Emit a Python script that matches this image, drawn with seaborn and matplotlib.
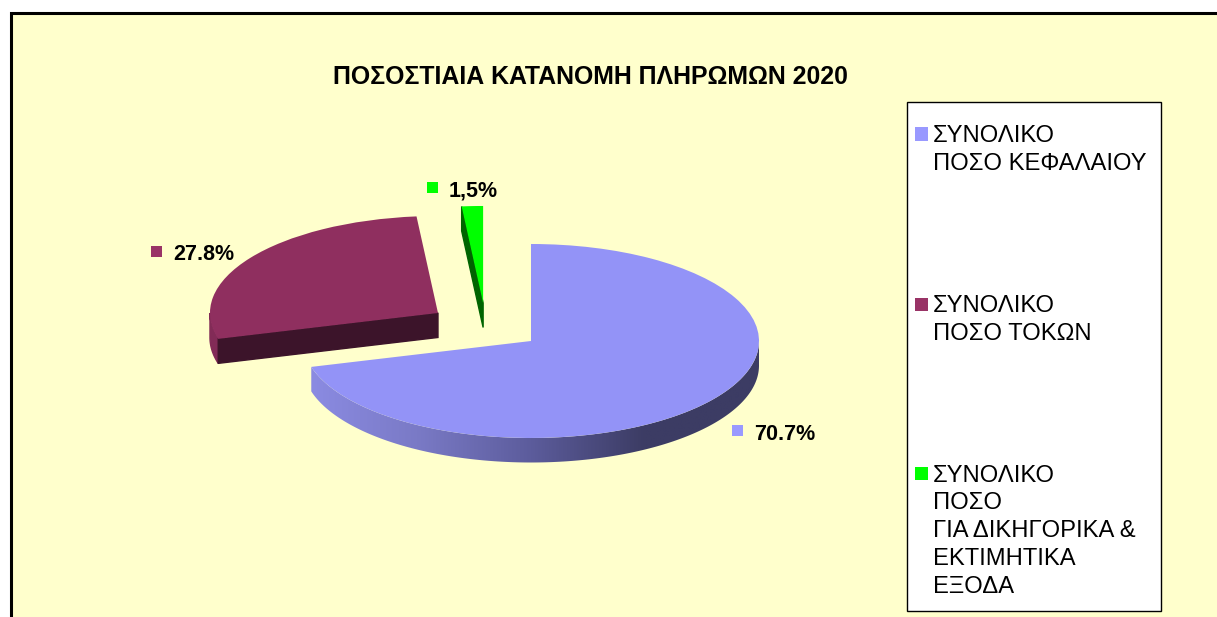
"""3D-looking exploded pie: percentage split of payments for 2020."""

import matplotlib

matplotlib.use("Agg")
import matplotlib.pyplot as plt
from matplotlib.patches import Polygon, Rectangle
import numpy as np
import seaborn as sns

VALUES = [70.7, 27.8, 1.5]
VALUE_LABELS = ["70.7%", "27.8%", "1,5%"]
LEGEND_LABELS = [
    "ΣΥΝΟΛΙΚΟ\nΠΟΣΟ ΚΕΦΑΛΑΙΟΥ",
    "ΣΥΝΟΛΙΚΟ\nΠΟΣΟ ΤΟΚΩΝ",
    "ΣΥΝΟΛΙΚΟ\nΠΟΣΟ\nΓΙΑ ΔΙΚΗΓΟΡΙΚΑ &\nΕΚΤΙΜΗΤΙΚΑ\nΕΞΟΔΑ",
]
TITLE = "ΠΟΣΟΣΤΙΑΙΑ ΚΑΤΑΝΟΜΗ ΠΛΗΡΩΜΩΝ 2020"

W, H = 1217, 617
# pie centre and radii in pixels, the tilt comes from the unequal radii
CX, CY, RX, RY = 531, 341, 228, 97
DEPTH = 24.5 / RY

TOP_COLORS = ["#9393f7", "#8f2f5f", "#00ff00"]
KEY_COLORS = ["#9999ff", "#993366", "#00ff00"]
SLICE_SHIFT = [(0.0, 0.0), (-0.408, 0.289), (-0.21, 0.392)]


def fx(px):
    return px / W


def fy(py):
    return 1 - py / H


def rim(center, a0, a1, n=200):
    """Outer edge of a slice; angles run clockwise from 12 o'clock."""
    a = np.radians(np.linspace(a0, a1, n))
    return np.column_stack([center[0] + np.sin(a), center[1] + np.cos(a)])


def wall(center, a0, a1):
    top = rim(center, a0, a1)
    low = top - [0, DEPTH]
    return np.vstack([top, low[::-1]])


def cut_face(center, angle):
    edge = rim(center, angle, angle, n=1)[0]
    pts = np.array([center, edge])
    return np.vstack([pts, (pts - [0, DEPTH])[::-1]])


sns.set_theme(style="white")
plt.rcParams["font.family"] = ["Liberation Sans", "DejaVu Sans"]

fig = plt.figure(figsize=(W / 100, H / 100), dpi=100, facecolor="white")
fig.add_artist(
    Rectangle(
        (fx(11), fy(H + 20)),
        (W + 20) / W,
        (H + 20 - 13) / H,
        transform=fig.transFigure,
        facecolor="#ffffcc",
        edgecolor="black",
        linewidth=2.2,
        zorder=-1,
    )
)

ax = fig.add_axes([0, 0, 1, 1])
ax.patch.set_visible(False)

edges = np.concatenate([[0], np.cumsum(VALUES)]) * 3.6

# side walls first, the slice tops go over them
cmap = sns.blend_palette(
    ["#8c8ce4", "#7a7ac6", "#5c5c9c", "#3c3c64", "#3c3c64"], as_cmap=True
)
im = ax.imshow(
    np.linspace(0, 1, 256)[None, :],
    cmap=cmap,
    extent=(-1, 1, -1.5, 0.5),
    aspect="auto",
    zorder=1,
)
im.set_clip_path(
    Polygon(wall(SLICE_SHIFT[0], 90, edges[1]), transform=ax.transData)
)

ax.add_patch(
    Polygon(wall(SLICE_SHIFT[1], edges[1], 270), color="#822b57", zorder=1)
)
ax.add_patch(
    Polygon(cut_face(SLICE_SHIFT[1], edges[1]), color="#3c142a", zorder=1.5)
)
ax.add_patch(
    Polygon(cut_face(SLICE_SHIFT[2], edges[2]), color="#006400", zorder=1.5)
)

wedges, _ = ax.pie(
    VALUES,
    colors=TOP_COLORS,
    startangle=90,
    counterclock=False,
    radius=1,
    wedgeprops={"linewidth": 0, "zorder": 2},
)
for wedge, shift in zip(wedges, SLICE_SHIFT):
    wedge.set_center(shift)

ax.set_aspect("auto")
ax.set_xlim(-CX / RX, (W - CX) / RX)
ax.set_ylim(-(H - CY) / RY, CY / RY)
ax.axis("off")

fig.text(
    fx(590.5), fy(84), TITLE, fontsize=17.9, fontweight="bold",
    ha="center", va="baseline", color="black",
)

# value labels with their small colour keys
label_spots = [(732, 425, 754, 439.5), (151, 246, 173, 260.5), (427, 182, 449, 196.5)]
for text, color, (kx, ky, tx, ty) in zip(VALUE_LABELS, KEY_COLORS, label_spots):
    fig.add_artist(
        Rectangle(
            (fx(kx), fy(ky + 11)), 11 / W, 11 / H,
            transform=fig.transFigure, facecolor=color, linewidth=0,
        )
    )
    fig.text(
        fx(tx), fy(ty), text, fontsize=15.5, fontweight="bold",
        ha="left", va="baseline", color="black",
    )

# legend box on the right
fig.add_artist(
    Rectangle(
        (fx(907), fy(611)), 254 / W, 509 / H,
        transform=fig.transFigure, facecolor="white",
        edgecolor="black", linewidth=1,
    )
)
for label, color, first_line in zip(LEGEND_LABELS, KEY_COLORS, [142, 312, 481.5]):
    fig.add_artist(
        Rectangle(
            (fx(915), fy(first_line - 1.5)), 13 / W, 13 / H,
            transform=fig.transFigure, facecolor=color, linewidth=0,
        )
    )
    for i, line in enumerate(label.split("\n")):
        fig.text(
            fx(933), fy(first_line + i * 27.8), line, fontsize=17.15,
            ha="left", va="baseline", color="black",
        )

fig.savefig("out.png", dpi=100)
plt.close(fig)
